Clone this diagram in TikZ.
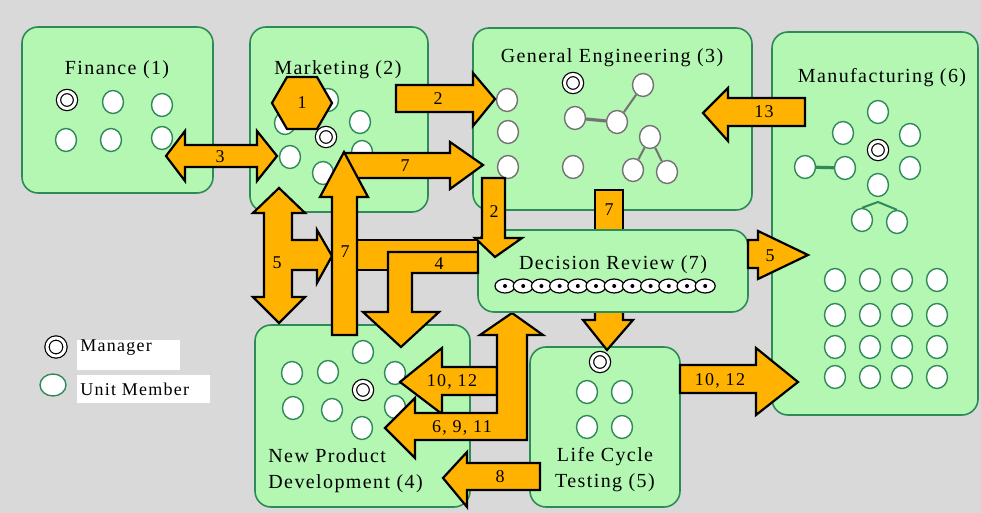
\documentclass[tikz,border=0pt]{standalone}
\usepackage{fontspec}
\setmainfont{Liberation Serif}[LetterSpace=7]
\usetikzlibrary{shapes.geometric, positioning, calc}

\definecolor{deptfill}{HTML}{B3F7B3}
\definecolor{deptedge}{HTML}{2E8B57}
\definecolor{flowfill}{HTML}{FFB300}
\definecolor{paper}{HTML}{D9D9D9}

\begin{document}
\begin{tikzpicture}[
    x=0.5pt, y=-0.5pt,
    dept/.style={draw=deptedge, fill=deptfill, line width=0.8pt, rounded corners=8pt, inner sep=0pt},
    member/.style={draw=deptedge, ellipse, fill=white, line width=0.7pt, minimum width=10.5pt, minimum height=11.5pt, inner sep=0pt},
    gemember/.style={member, draw=black!55},
    manager/.style={circle, draw=black, line width=0.6pt, double=white, double distance=1.5pt, fill=white, minimum size=8.5pt, inner sep=0pt},
    reviewer/.style={ellipse, draw=black, line width=0.6pt, fill=white, minimum width=10pt, minimum height=7pt, inner sep=0pt,
        path picture={\fill[black] (path picture bounding box.center) circle (1pt);}},
    flow/.style={draw=black, fill=flowfill, line width=1.1pt, line join=miter},
    flowlabel/.style={font=\fontsize{9}{10}\selectfont, inner sep=0pt},
    title/.style={font=\fontsize{10}{13}\selectfont, inner sep=0pt},
    link/.style={line width=1pt}
]

    % --- Background ---
    \fill[paper] (0,0) rectangle (981,513);
    \useasboundingbox (0,0) rectangle (981,513);

    % --- Departments ---
    \node[dept, minimum width=95.5pt, minimum height=83pt] (fin) at (117.5,110) {};
    \node[dept, minimum width=89pt, minimum height=92.5pt] (mkt) at (339,119.5) {};
    \node[dept, minimum width=139.5pt, minimum height=91pt] (geng) at (612.5,119) {};
    \node[dept, minimum width=103pt, minimum height=191.5pt] (mfg) at (875,223.5) {};
    \node[dept, minimum width=107.5pt, minimum height=91pt] (npd) at (362.5,416) {};
    \node[dept, minimum width=75pt, minimum height=80pt] (lct) at (605,427) {};

    % --- Titles ---
    \node[title] (fintitle) at (117,70) {Finance (1)};
    \node[title] (mkttitle) at (338,70) {Marketing (2)};
    \node[title] (gengtitle) at (612,58) {General Engineering (3)};
    \node[title] (mfgtitle) at (882,78) {Manufacturing (6)};
    \node[title, align=left, anchor=west] (npdtitle) at (268,471) {New Product\\Development (4)};
    \node[title, align=center] (lcttitle) at (605,470) {Life Cycle\\Testing (5)};

    % --- Finance members ---
    \node[manager] (finmgr) at (67,100) {};
    \foreach \n/\x/\y in {1/113/102, 2/162/105, 3/66/140, 4/111/140, 5/162/138}
        \node[member] (fin\n) at (\x,\y) {};

    % --- Marketing members ---
    \foreach \n/\x/\y in {1/328/100, 2/285/123, 3/360/122, 4/290/157, 5/362/152, 6/323/173}
        \node[member] (mkt\n) at (\x,\y) {};
    \node[manager] (mktmgr) at (326,137) {};

    % --- General Engineering members ---
    \node[manager] (gengmgr) at (573,83) {};
    \foreach \n/\x/\y in {1/507/100, 2/508/132, 3/508/167, 4/575/118, 5/617/122,
                          6/643/85, 7/573/167, 8/650/137, 9/633/170, 10/667/172}
        \node[gemember] (geng\n) at (\x,\y) {};
    \draw[link, black!55, line width=1.6pt] (geng4) -- (geng5);
    \draw[link, black!55] (geng5) -- (geng6);
    \draw[link, black!55] (geng8) -- (geng9);
    \draw[link, black!55] (geng8) -- (geng10);

    % --- Manufacturing members ---
    \node[manager] (mfgmgr) at (878,150) {};
    \foreach \n/\x/\y in {1/878/112, 2/843/133, 3/910/135, 4/805/167, 5/845/168,
                          6/910/168, 7/878/185, 8/862/220, 9/897/222}
        \node[member] (mfg\n) at (\x,\y) {};
    \draw[link, deptedge, line width=1.6pt] (mfg4) -- (mfg5);
    \coordinate (mfgfork) at (878,202);
    \draw[link, deptedge] (mfg8.north) -- (mfgfork) -- (mfg9.north);
    \foreach \x [count=\i] in {835,870,902,937}
        \foreach \y [count=\j] in {280,315,347,377}
            \node[member] (mfgrid\i\j) at (\x,\y) {};

    % --- New Product Development members ---
    \node[manager] (npdmgr) at (363,390) {};
    \foreach \n/\x/\y in {1/363/352, 2/292/373, 3/328/372, 4/395/373,
                          5/293/408, 6/332/410, 7/395/407, 8/362/428}
        \node[member] (npd\n) at (\x,\y) {};

    % --- Life Cycle Testing members ---
    \node[manager] (lctmgr) at (600,362) {};
    \foreach \n/\x/\y in {1/587/392, 2/622/392, 3/587/427, 4/622/427}
        \node[member] (lct\n) at (\x,\y) {};

    % --- Flows behind Decision Review ---
    \draw[flow] (595,190) rectangle (623,240);
    \node[flowlabel] (lab7b) at (609,210) {7};
    \draw[flow] (595,300) -- (623,300) -- (623,320) -- (633,320) -- (607,350) -- (583,320) -- (595,320) -- cycle;
    % 10, 12 into New Product Development
    \draw[flow] (497,367) -- (442,367) -- (442,348) -- (400,382) -- (442,414) -- (442,395) -- (497,395) -- cycle;
    \node[flowlabel] (lab1012a) at (452,382) {10, 12};
    % 6, 9, 11
    \draw[flow] (512,313) -- (543,335) -- (527,335) -- (527,440) -- (415,440) -- (415,458) -- (385,428)
        -- (415,398) -- (415,413) -- (497,413) -- (497,335) -- (480,335) -- cycle;
    \node[flowlabel] (lab6911) at (462,428) {6, 9, 11};

    % --- Decision Review ---
    \node[dept, minimum width=135pt, minimum height=41pt] (dec) at (613,271) {};
    \node[title] (dectitle) at (613,265) {Decision Review (7)};
    \foreach \i in {0,...,11}
        \node[reviewer] (rev\i) at ({505+18.2*\i},286) {};

    % --- Flows ---
    % 3: Finance <-> Marketing
    \draw[flow] (166,156) -- (185,131) -- (185,145) -- (257,145) -- (257,131) -- (277,156)
        -- (257,181) -- (257,167) -- (185,167) -- (185,181) -- cycle;
    \node[flowlabel] (lab3) at (220,157) {3};
    % 2: Marketing -> General Engineering
    \draw[flow] (396,85) -- (473,85) -- (473,73) -- (495,99) -- (473,126) -- (473,112) -- (396,112) -- cycle;
    \node[flowlabel] (lab2a) at (438,99) {2};
    % 13: Manufacturing -> General Engineering
    \draw[flow] (805,98) -- (728,98) -- (728,88) -- (703,113) -- (728,141) -- (728,126) -- (805,126) -- cycle;
    \node[flowlabel] (lab13) at (764,112) {13};
    % 5: Marketing <-> New Product Development
    \draw[flow] (279,188) -- (305,213) -- (292,213) -- (292,240) -- (317,240) -- (317,230) -- (332,256)
        -- (317,283) -- (317,270) -- (292,270) -- (292,297) -- (305,297) -- (279,323) -- (253,297)
        -- (264,297) -- (264,213) -- (253,213) -- cycle;
    \node[flowlabel] (lab5a) at (277,263) {5};
    \draw[flow] (345,240) rectangle (478,270);
    % 4: Decision Review -> New Product Development
    \draw[flow] (478,252) -- (388,252) -- (388,312) -- (363,312) -- (401,347) -- (439,312) -- (412,312)
        -- (412,273) -- (478,273) -- cycle;
    \node[flowlabel] (lab4) at (439,264) {4};
    % 7: New Product Development -> Marketing -> General Engineering
    \draw[flow] (345,153) -- (450,153) -- (450,142) -- (483,165) -- (450,189) -- (450,178) -- (345,178) -- cycle;
    \node[flowlabel] (lab7a) at (405,166) {7};
    \draw[flow] (332,335) -- (332,197) -- (320,197) -- (344,152) -- (368,197) -- (357,197) -- (357,335) -- cycle;
    \node[flowlabel] (lab7c) at (345,252) {7};
    % 2: General Engineering -> Decision Review
    \draw[flow] (482,178) -- (505,178) -- (505,238) -- (522,238) -- (495,257) -- (475,238) -- (482,238) -- cycle;
    \node[flowlabel] (lab2b) at (494,212) {2};
    % 5: Decision Review -> Manufacturing
    \draw[flow] (748,240) -- (758,240) -- (758,231) -- (808,255) -- (758,279) -- (758,268) -- (748,268) -- cycle;
    \node[flowlabel] (lab5b) at (770,256) {5};
    % 10, 12: Life Cycle Testing -> Manufacturing
    \draw[flow] (680,365) -- (756,365) -- (756,348) -- (798,382) -- (756,415) -- (756,393) -- (680,393) -- cycle;
    \node[flowlabel] (lab1012b) at (720,381) {10, 12};
    % 8: Life Cycle Testing -> New Product Development
    \draw[flow] (540,463) -- (467,463) -- (467,452) -- (443,478) -- (467,507) -- (467,490) -- (540,490) -- cycle;
    \node[flowlabel] (lab8) at (500,477) {8};

    % --- Marketing team ---
    \node[regular polygon, regular polygon sides=6, draw=black, fill=flowfill, line width=1.1pt,
          minimum size=30pt, inner sep=0pt, font=\fontsize{9}{10}\selectfont] (team) at (302,103) {1};

    % --- Legend ---
    \node[manager, minimum size=9pt] (legmgr) at (56,347) {};
    \node[fill=white, minimum width=51.5pt, minimum height=15pt, inner sep=0pt, anchor=north west] (legmgrbox) at (77,340) {};
    \node[flowlabel, anchor=west] (legmgrtext) at (80,348) {Manager};
    \node[member, minimum width=13pt, minimum height=11pt] (legmember) at (53,385) {};
    \node[fill=white, minimum width=66.5pt, minimum height=14pt, inner sep=0pt, anchor=north west] (legmemberbox) at (77,375) {};
    \node[flowlabel, anchor=west] (legmembertext) at (80,389) {Unit Member};

\end{tikzpicture}
\end{document}
